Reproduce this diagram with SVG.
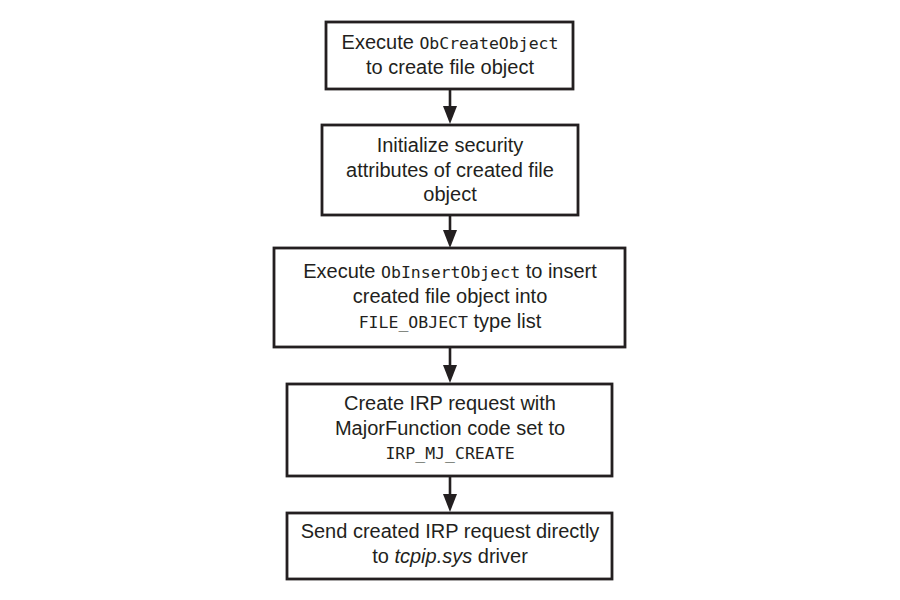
<svg xmlns="http://www.w3.org/2000/svg" width="900" height="600" viewBox="0 0 900 600">
<style>
.box{fill:#fff;stroke:#231f20;stroke-width:2.8}
.t{font-family:"Liberation Sans",Arial,sans-serif;font-size:20px;fill:#231f20;text-anchor:middle}
.m{font-family:"DejaVu Sans Mono","Liberation Mono",monospace;font-size:16.5px}
.i{font-style:italic}
.c{stroke:#231f20;stroke-width:2.6;fill:none}
.h{fill:#231f20}
</style>
<rect width="900" height="600" fill="#fff"/>
<g id="connectors">
<path class="c" d="M450,89 V110"/>
<polygon class="h" points="443,106 457,106 450,124"/>
<path class="c" d="M450,215 V234"/>
<polygon class="h" points="443,230 457,230 450,248"/>
<path class="c" d="M450,347 V369"/>
<polygon class="h" points="443,365 457,365 450,383"/>
<path class="c" d="M450,476 V498"/>
<polygon class="h" points="443,494 457,494 450,512"/>
</g>
<g id="n1">
<rect class="box" x="326" y="22" width="247" height="67"/>
<text class="t" x="450" y="49">Execute <tspan class="m">ObCreateObject</tspan></text>
<text class="t" x="450" y="74">to create file object</text>
</g>
<g id="n2">
<rect class="box" x="322" y="125" width="256" height="90"/>
<text class="t" x="450" y="152">Initialize security</text>
<text class="t" x="450" y="177">attributes of created file</text>
<text class="t" x="450" y="201">object</text>
</g>
<g id="n3">
<rect class="box" x="274" y="248" width="351" height="99"/>
<text class="t" x="450" y="278">Execute <tspan class="m">ObInsertObject</tspan> to insert</text>
<text class="t" x="450" y="303">created file object into</text>
<text class="t" x="450" y="328"><tspan class="m">FILE_OBJECT</tspan> type list</text>
</g>
<g id="n4">
<rect class="box" x="287" y="384" width="325" height="92"/>
<text class="t" x="450" y="410">Create IRP request with</text>
<text class="t" x="450" y="435">MajorFunction code set to</text>
<text class="t" x="450" y="459"><tspan class="m">IRP_MJ_CREATE</tspan></text>
</g>
<g id="n5">
<rect class="box" x="287" y="513" width="325" height="66"/>
<text class="t" x="450" y="538">Send created IRP request directly</text>
<text class="t" x="450" y="563">to <tspan class="i">tcpip.sys</tspan> driver</text>
</g>
</svg>
